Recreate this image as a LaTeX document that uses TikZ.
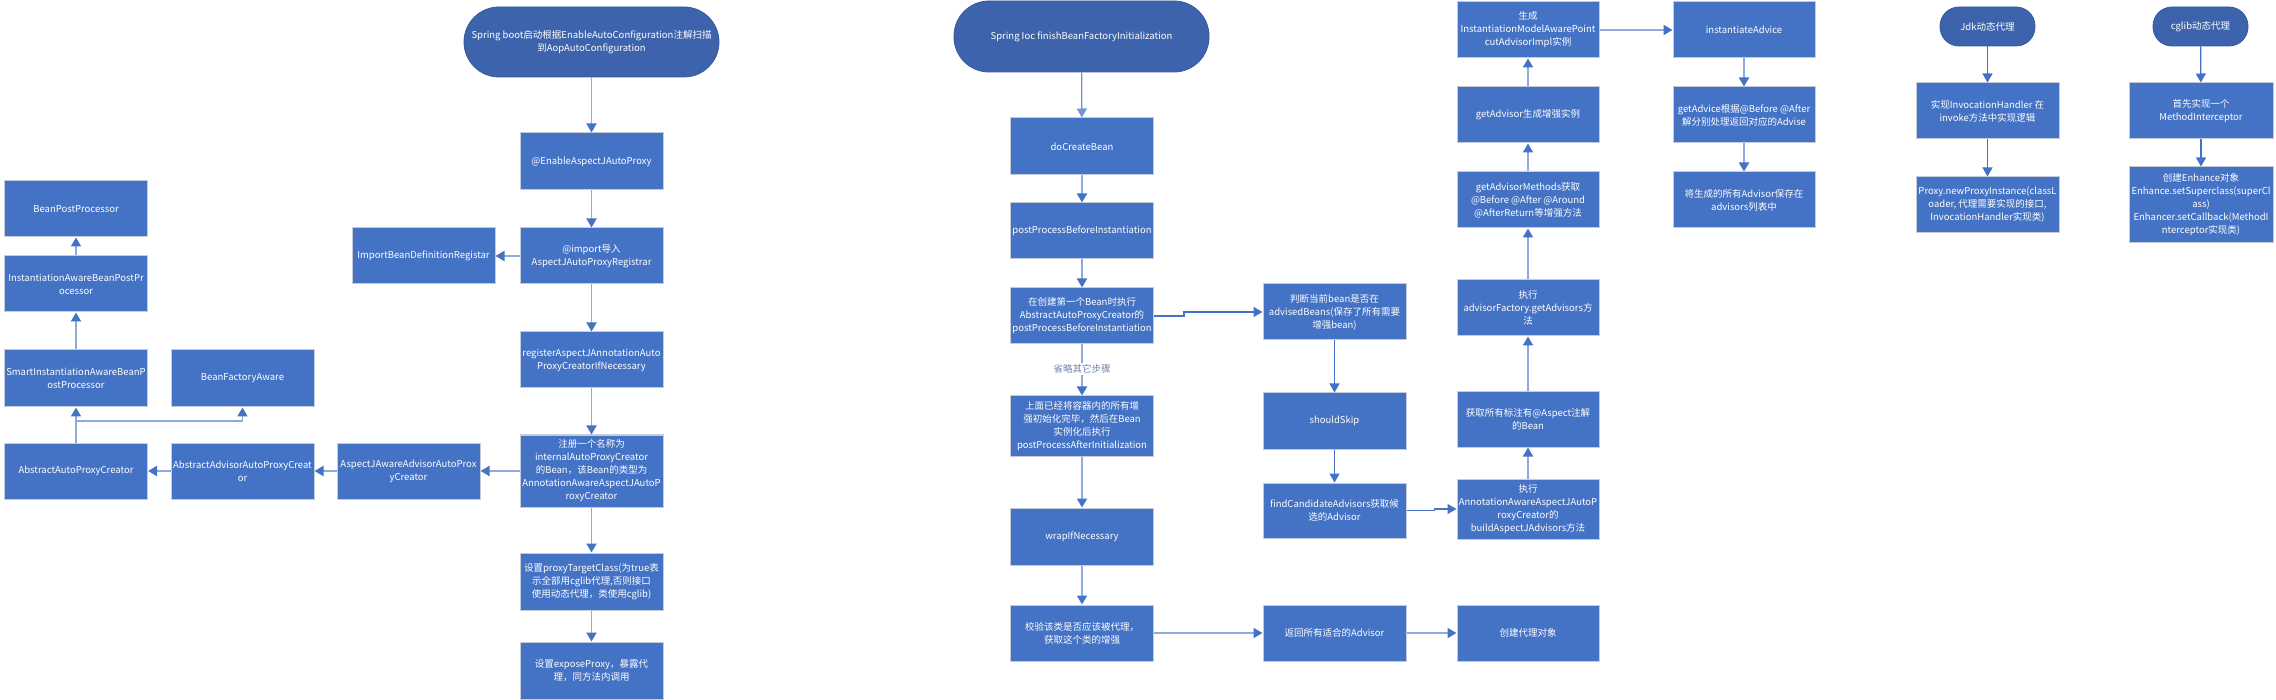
\documentclass[tikz,border=0pt]{standalone}
\usepackage{fontspec}
\setmainfont{Noto Sans CJK SC}
\usetikzlibrary{arrows.meta}
\definecolor{boxblue}{HTML}{4472C4}
\definecolor{stblue}{HTML}{3D63AC}
\definecolor{stbord}{HTML}{3558A0}
\definecolor{lline}{HTML}{8FAADC}
\definecolor{dline}{HTML}{4472C4}
\definecolor{bord}{HTML}{C5CCD8}
\definecolor{lbl}{HTML}{7483A8}
\begin{document}
\begin{tikzpicture}[x=1pt,y=-1pt,
  box/.style={rectangle,draw=bord,line width=1pt,fill=boxblue,text=white,align=center,
    font=\fontsize{9.5}{13}\selectfont,inner sep=1pt,minimum width=143pt,minimum height=56pt},
  stadium/.style={rectangle,draw=stbord,line width=0.8pt,fill=stblue,text=white,align=center,
    font=\fontsize{9.5}{13}\selectfont,inner sep=1pt},
  arr/.style={draw=lline,line width=1.8pt,-{Triangle[length=9pt,width=10pt,color=dline]}},
  darr/.style={draw=dline,line width=1.3pt,-{Triangle[length=9pt,width=10pt]}},
  lab/.style={fill=white,text=lbl,font=\fontsize{9.5}{12}\selectfont,inner sep=1.5pt}]
\fill[white] (0,0) rectangle (2276,700);
\useasboundingbox (0,0) rectangle (2276,700);

% ---------- left hierarchy ----------
\node[box] (bpp) at (76,209) {BeanPostProcessor};
\node[box] (iabpp) at (76,284) {InstantiationAwareBeanPostPr\\ocessor};
\node[box,minimum height=57pt] (siabpp) at (76,378.5) {SmartInstantiationAwareBeanP\\ostProcessor};
\node[box,minimum height=57pt] (bfa) at (242.5,378.5) {BeanFactoryAware};
\node[box] (aapc) at (76,471) {AbstractAutoProxyCreator};
\node[box] (aaapc) at (242.5,471) {AbstractAdvisorAutoProxyCreat\\or};
\node[box] (ajaapc) at (408.5,471) {AspectJAwareAdvisorAutoProx\\yCreator};
\node[box] (ibdr) at (423.5,256) {ImportBeanDefinitionRegistar};

% ---------- column 1 ----------
\node[stadium,minimum width=255pt,minimum height=70pt,rounded corners=35pt] (s1) at (591.5,42)
  {Spring boot启动根据EnableAutoConfiguration注解扫描\\到AopAutoConfiguration};
\node[box,minimum height=57pt] (enable) at (591.5,161.5) {@EnableAspectJAutoProxy};
\node[box] (import) at (591.5,256) {@import导入\\AspectJAutoProxyRegistrar};
\node[box] (register) at (591.5,360) {registerAspectJAnnotationAuto\\ProxyCreatorIfNecessary};
\node[box,minimum height=72pt] (regbean) at (591.5,471)
  {注册一个名称为\\internalAutoProxyCreator\\的Bean，该Bean的类型为\\AnnotationAwareAspectJAutoP\\roxyCreator};
\node[box,minimum height=57pt] (ptc) at (591.5,581.5)
  {设置proxyTargetClass(为true表\\示全部用cglib代理,否则接口\\使用动态代理，类使用cglib)};
\node[box,minimum height=57pt] (expose) at (591.5,670.5) {设置exposeProxy，暴露代\\理，同方法内调用};

% ---------- column 2 ----------
\node[stadium,minimum width=255pt,minimum height=71pt,rounded corners=35pt] (s2) at (1081.5,36.5)
  {Spring Ioc finishBeanFactoryInitialization};
\node[box,minimum height=57pt] (docreate) at (1082,146.5) {doCreateBean};
\node[box] (ppbi) at (1082,231) {postProcessBeforeInstantiation};
\node[box] (first) at (1082,316) {在创建第一个Bean时执行\\AbstractAutoProxyCreator的\\postProcessBeforeInstantiation};
\node[box,minimum height=60pt] (after) at (1082,426)
  {上面已经将容器内的所有增\\强初始化完毕，然后在Bean\\实例化后执行\\postProcessAfterInitialization};
\node[box,minimum height=57pt] (wrap) at (1082,536.5) {wrapIfNecessary};
\node[box] (check) at (1082,633) {校验该类是否应该被代理，\\获取这个类的增强};

% ---------- column 2b ----------
\node[box] (judge) at (1334.5,312) {判断当前bean是否在\\advisedBeans(保存了所有需要\\增强bean)};
\node[box] (skip) at (1334.5,421) {shouldSkip};
\node[box,minimum height=55pt] (find) at (1334.5,510.5) {findCandidateAdvisors获取候\\选的Advisor};
\node[box] (ret) at (1334.5,633) {返回所有适合的Advisor};

% ---------- column 3 ----------
\node[box,minimum width=142pt] (gen) at (1528,30) {生成\\InstantiationModelAwarePoint\\cutAdvisorImpl实例};
\node[box,minimum width=142pt] (getadv) at (1528,115) {getAdvisor生成增强实例};
\node[box,minimum width=142pt] (getmeth) at (1528,200) {getAdvisorMethods获取\\@Before @After @Around\\@AfterReturn等增强方法};
\node[box,minimum width=142pt] (factory) at (1528,308) {执行\\advisorFactory.getAdvisors方\\法};
\node[box,minimum width=142pt,minimum height=55pt] (aspect) at (1528,419.5) {获取所有标注有@Aspect注解\\的Bean};
\node[box,minimum width=142pt,minimum height=60pt] (build) at (1528,509)
  {执行\\AnnotationAwareAspectJAutoP\\roxyCreator的\\buildAspectJAdvisors方法};
\node[box,minimum width=142pt] (create) at (1528,633) {创建代理对象};

% ---------- column 3b ----------
\node[box,minimum width=142pt] (inst) at (1744,30) {instantiateAdvice};
\node[box,minimum width=142pt] (getadvice) at (1744,115) {getAdvice根据@Before @After\\解分别处理返回对应的Advise};
\node[box,minimum width=142pt] (save) at (1744,200) {将生成的所有Advisor保存在\\advisors列表中};

% ---------- column 4 ----------
\node[stadium,minimum width=95pt,minimum height=39pt,rounded corners=19pt] (jdk) at (1987.5,26.5) {Jdk动态代理};
\node[box] (invh) at (1987.5,111) {实现InvocationHandler 在\\invoke方法中实现逻辑};
\node[box] (newpi) at (1987.5,205) {Proxy.newProxyInstance(classL\\oader, 代理需要实现的接口,\\InvocationHandler实现类)};
\node[stadium,minimum width=95pt,minimum height=39pt,rounded corners=19pt] (cglib) at (2200.5,26.5) {cglib动态代理};
\node[box,minimum width=144pt] (mi) at (2201,111) {首先实现一个\\MethodInterceptor};
\node[box,minimum width=144pt,minimum height=76pt] (enh) at (2201,205)
  {创建Enhance对象\\Enhance.setSuperclass(superCl\\ass)\\Enhancer.setCallback(MethodI\\nterceptor实现类)};

% ---------- connectors: column 1 and hierarchy ----------
\draw[arr] (s1) -- (enable);
\draw[arr] (enable) -- (import);
\draw[arr] (import) -- (ibdr);
\draw[arr] (import) -- (register);
\draw[arr] (register) -- (regbean);
\draw[arr] (regbean) -- (ptc);
\draw[arr] (ptc) -- (expose);
\draw[arr] (regbean.west |- ajaapc.east) -- (ajaapc.east);
\draw[arr] (ajaapc) -- (aaapc);
\draw[arr] (aaapc) -- (aapc);
\draw[arr] (aapc) -- (siabpp);
\path (aapc.north) -- (siabpp.south) coordinate[pos=0.61] (br);
\draw[arr] (br) -| (bfa.south);
\draw[arr] (siabpp) -- (iabpp);
\draw[arr] (iabpp) -- (bpp);

% ---------- connectors: column 2 ----------
\draw[darr,draw=lline!60!dline] (s2) -- (docreate);
\draw[arr] (docreate) -- (ppbi);
\draw[arr] (ppbi) -- (first);
\draw[arr] (first) -- node[lab,pos=0.48] {省略其它步骤} (after);
\draw[arr] (after) -- (wrap);
\draw[arr] (wrap) -- (check);
\draw[darr] (first.east) -- ++(30,0) |- (judge.west);
\draw[darr] (judge) -- (skip);
\draw[darr] (skip) -- (find);
\draw[darr] (find.east) -- ++(28,0) |- (build.west);
\draw[arr] (check) -- (ret);
\draw[arr] (ret) -- (create);

% ---------- connectors: column 3 ----------
\draw[arr] (build) -- (aspect);
\draw[arr] (aspect) -- (factory);
\draw[arr] (factory) -- (getmeth);
\draw[arr] (getmeth) -- (getadv);
\draw[arr] (getadv) -- (gen);
\draw[arr] (gen) -- (inst);
\draw[arr] (inst) -- (getadvice);
\draw[arr] (getadvice) -- (save);

% ---------- connectors: column 4 ----------
\draw[darr] (jdk) -- (invh);
\draw[darr] (invh) -- (newpi);
\draw[darr] (cglib) -- (mi);
\draw[darr] (mi) -- (enh);
\end{tikzpicture}
\end{document}
